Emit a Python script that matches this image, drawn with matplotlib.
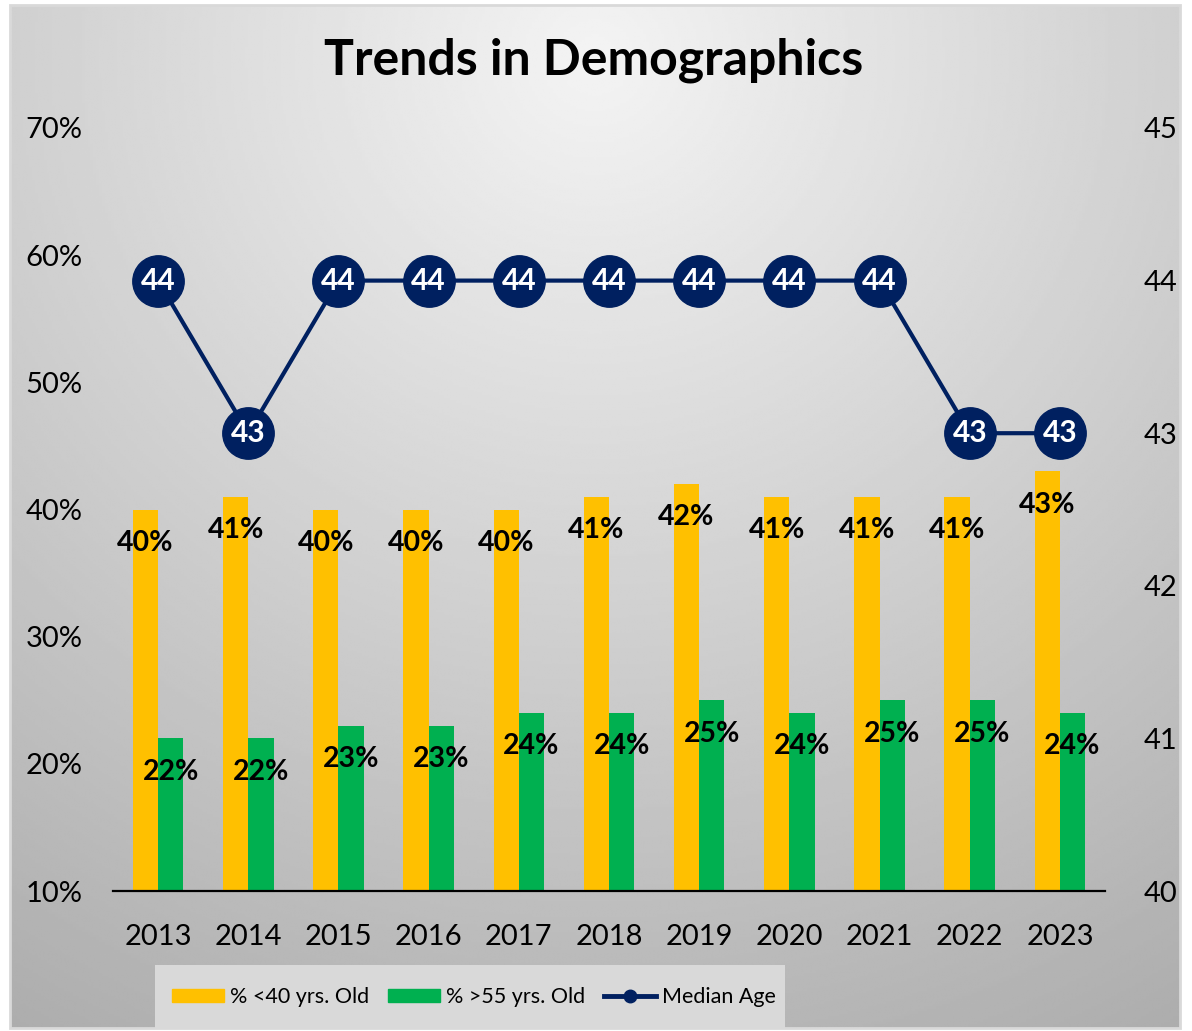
import numpy as np
import matplotlib.pyplot as plt
from matplotlib.patches import Rectangle, Patch
from matplotlib.lines import Line2D
from matplotlib.ticker import PercentFormatter

# --- data ---
years = ['2013', '2014', '2015', '2016', '2017', '2018', '2019', '2020', '2021', '2022', '2023']
under_40 = [0.40, 0.41, 0.40, 0.40, 0.40, 0.41, 0.42, 0.41, 0.41, 0.41, 0.43]
over_55 = [0.22, 0.22, 0.23, 0.23, 0.24, 0.24, 0.25, 0.24, 0.25, 0.25, 0.24]
median_age = [44, 43, 44, 44, 44, 44, 44, 44, 44, 43, 43]

yellow = '#FFC000'
green = '#00B050'
navy = '#002060'
font = ['Lato', 'DejaVu Sans']
plt.rcParams['font.family'] = font

W, H = 1192, 1031
fig = plt.figure(figsize=(W / 100, H / 100), dpi=100)
fig.patch.set_facecolor('white')

# --- gradient background inside the chart frame ---
bg = fig.add_axes([10 / W, 3 / H, 1170 / W, 1023 / H], zorder=-5)
gx, gy = np.meshgrid(np.linspace(0, 1, 400), np.linspace(0, 1, 400))
d = np.sqrt(((gx - 0.5) * 1.0) ** 2 + ((gy - 0.95) * 0.9) ** 2)
shade = np.clip(0.955 - 0.28 * d, 0.64, 1.0)
bg.imshow(shade, cmap='gray', vmin=0, vmax=1, origin='lower', extent=[0, 1, 0, 1],
          aspect='auto', interpolation='bilinear')
bg.set_xlim(0, 1)
bg.set_ylim(0, 1)
bg.axis('off')
fig.patches.append(Rectangle((10 / W, 3 / H), 1170 / W, 1023 / H, transform=fig.transFigure,
                             fill=False, edgecolor='#d9d9d9', linewidth=2))

# --- main axes ---
ax = fig.add_axes([113 / W, 140 / H, (1105 - 113) / W, (891 - 128) / H])
ax.patch.set_alpha(0)
x = np.arange(len(years))
bw = 0.28
ax.bar(x - bw / 2, under_40, width=bw, color=yellow, zorder=2)
ax.bar(x + bw / 2, over_55, width=bw, color=green, zorder=2)
ax.set_ylim(0.10, 0.70)
ax.set_xlim(-0.5, len(years) - 0.5)
ax.set_yticks(np.arange(0.10, 0.71, 0.10))
ax.yaxis.set_major_formatter(PercentFormatter(1.0, decimals=0))
ax.set_xticks(x)
ax.set_xticklabels(years)
ax.tick_params(axis='y', length=0, pad=22, labelsize=21)
ax.tick_params(axis='x', length=0, pad=24, labelsize=21)
for s in ['top', 'left', 'right']:
    ax.spines[s].set_visible(False)
ax.spines['bottom'].set_linewidth(1.6)
ax.spines['bottom'].set_color('black')

for xi, v in zip(x, under_40):
    ax.annotate(f'{v:.0%}', (xi - bw / 2, v), xytext=(0, -24), textcoords='offset points',
                ha='center', va='center', fontsize=20.5, fontweight='bold', zorder=5)
for xi, v in zip(x, over_55):
    ax.annotate(f'{v:.0%}', (xi + bw / 2, v), xytext=(0, -24), textcoords='offset points',
                ha='center', va='center', fontsize=20.5, fontweight='bold', zorder=5)

# --- median age line on right axis ---
ax2 = ax.twinx()
ax2.plot(x, median_age, color=navy, linewidth=3, marker='o', markersize=37, zorder=3)
ax2.set_ylim(40, 45)
ax2.set_yticks(range(40, 46))
ax2.tick_params(axis='y', length=0, pad=28, labelsize=21)
for s in ax2.spines.values():
    s.set_visible(False)
for xi, v in zip(x, median_age):
    ax2.text(xi, v, str(v), ha='center', va='center', color='white',
             fontsize=21.5, fontweight='bold', zorder=6)

# --- title ---
fig.text(594 / W, 1 - 60 / H, 'Trends in Demographics', ha='center', va='center',
         fontsize=36, fontweight='bold')

# --- legend ---
fig.patches.append(Rectangle((155 / W, 3 / H), (785 - 155) / W, (1031 - 965 - 3) / H,
                             transform=fig.transFigure, facecolor='#d9d9d9', edgecolor='none'))
handles = [Patch(color=yellow), Patch(color=green),
           Line2D([0], [0], color=navy, linewidth=3.5, marker='o', markersize=9)]
labels = ['% <40 yrs. Old', '% >55 yrs. Old', 'Median Age']
fig.legend(handles, labels, loc='center', bbox_to_anchor=(474 / W, 1 - 997 / H), ncol=3,
           frameon=False, fontsize=15.5, handlelength=2.4, handleheight=0.6,
           handletextpad=0.28, columnspacing=0.9)

fig.savefig('out.png', dpi=100)
